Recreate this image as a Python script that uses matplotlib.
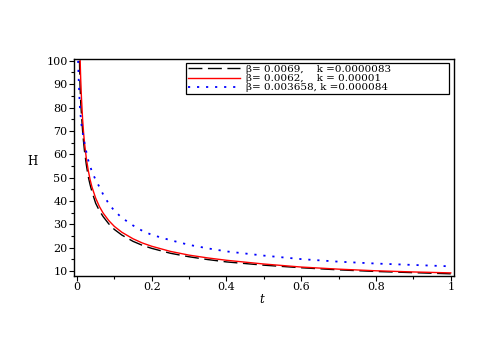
import matplotlib
matplotlib.use("Agg")
import matplotlib.pyplot as plt
from matplotlib.ticker import MultipleLocator

# ---- data ----
black_t = [0.0067, 0.008, 0.01, 0.012, 0.015, 0.0175, 0.02, 0.025, 0.03, 0.035, 0.04, 0.05, 0.06,
           0.07, 0.085, 0.1, 0.12, 0.15, 0.175, 0.2, 0.25, 0.3, 0.35, 0.4, 0.5, 0.6, 0.7, 0.8, 0.9, 1.0]
black_H = [100, 90, 82, 77, 70, 65.5, 61.5, 55.5, 50.5, 47, 44, 39, 35.8,
           33.3, 30.2, 27.8, 25.4, 22.7, 21.0, 19.7, 17.6, 16.1, 14.9, 13.9, 12.5, 11.4, 10.5, 9.8, 9.3, 8.8]

red_t = [0.0085, 0.01, 0.012, 0.015, 0.0175, 0.02, 0.025, 0.03, 0.035, 0.04, 0.05, 0.06,
         0.07, 0.085, 0.1, 0.12, 0.15, 0.175, 0.2, 0.25, 0.3, 0.35, 0.4, 0.5, 0.6, 0.7, 0.8, 0.9, 1.0]
red_H = [100, 92, 84, 75, 69.5, 65, 58.2, 53.2, 49.2, 46, 41.2, 37.6,
         34.8, 31.6, 29.1, 26.6, 23.8, 22.0, 20.6, 18.4, 16.8, 15.6, 14.6, 13.0, 11.7, 10.8, 10.1, 9.6, 9.2]

blue_t = [0.003, 0.005, 0.0075, 0.01, 0.0125, 0.015, 0.0175, 0.02, 0.025, 0.03, 0.035, 0.04, 0.05, 0.06,
          0.07, 0.085, 0.1, 0.12, 0.15, 0.175, 0.2, 0.25, 0.3, 0.35, 0.4, 0.5, 0.6, 0.7, 0.8, 0.9, 1.0]
blue_H = [100, 90, 81, 76, 72, 69.5, 67, 65, 61, 57.5, 55, 52.5, 49, 46,
          42.8, 38.8, 35.8, 32.8, 29.5, 27.2, 25.5, 23.2, 21.2, 19.7, 18.4, 16.6, 15.1, 14.0, 13.2, 12.6, 12.0]

labels = ["\u03b2= 0.0069,    k =0.0000083",
          "\u03b2= 0.0062,    k = 0.00001",
          "\u03b2= 0.003658, k =0.000084"]

x_ticks = [0, 0.2, 0.4, 0.6, 0.8, 1]
x_ticklabels = ["0", "0.2", "0.4", "0.6", "0.8", "1"]
y_ticks = [10, 20, 30, 40, 50, 60, 70, 80, 90, 100]

# ---- figure ----
plt.rcParams['font.family'] = ['DejaVu Serif']
fig = plt.figure(figsize=(4.91, 3.54), dpi=100)
ax = fig.add_axes([0.1507, 0.2212, 0.774, 0.611])

ax.plot(black_t, black_H, color='black', lw=1.0, dashes=(10, 4), label=labels[0])
ax.plot(red_t, red_H, color='#ff0000', lw=1.0, label=labels[1])
ax.plot(blue_t, blue_H, color='#0000ff', lw=1.3, linestyle=(0, (1.2, 3.8)), label=labels[2])

ax.set_xlim(-0.008, 1.0088)
ax.set_ylim(8.0, 100.6)

ax.set_xticks(x_ticks)
ax.set_xticklabels(x_ticklabels)
ax.set_yticks(y_ticks)
ax.xaxis.set_minor_locator(MultipleLocator(0.1))
ax.yaxis.set_minor_locator(MultipleLocator(5))
ax.tick_params(which='major', direction='out', length=3.5, width=0.8, pad=1, labelsize=8)
ax.tick_params(which='minor', direction='out', length=2, width=0.8)
ax.tick_params(top=False, right=False)

for s in ax.spines.values():
    s.set_linewidth(1.0)

ax.set_ylabel("H", rotation=0, fontsize=8.5)
ax.yaxis.set_label_coords(-0.1105, 0.498)
ax.set_xlabel("t", fontsize=8.5, style='italic')
ax.xaxis.set_label_coords(0.495, -0.08)

leg = ax.legend(loc='lower left', bbox_to_anchor=(0.2947, 0.84, 0.692, 0.125), mode='expand',
                borderaxespad=0, fontsize=7.5, frameon=True, fancybox=False, framealpha=1,
                edgecolor='black', labelspacing=0.0, borderpad=0.15, handlelength=5.0,
                handletextpad=0.6)
leg.get_frame().set_linewidth(0.9)

fig.savefig("out.png", dpi=100)
